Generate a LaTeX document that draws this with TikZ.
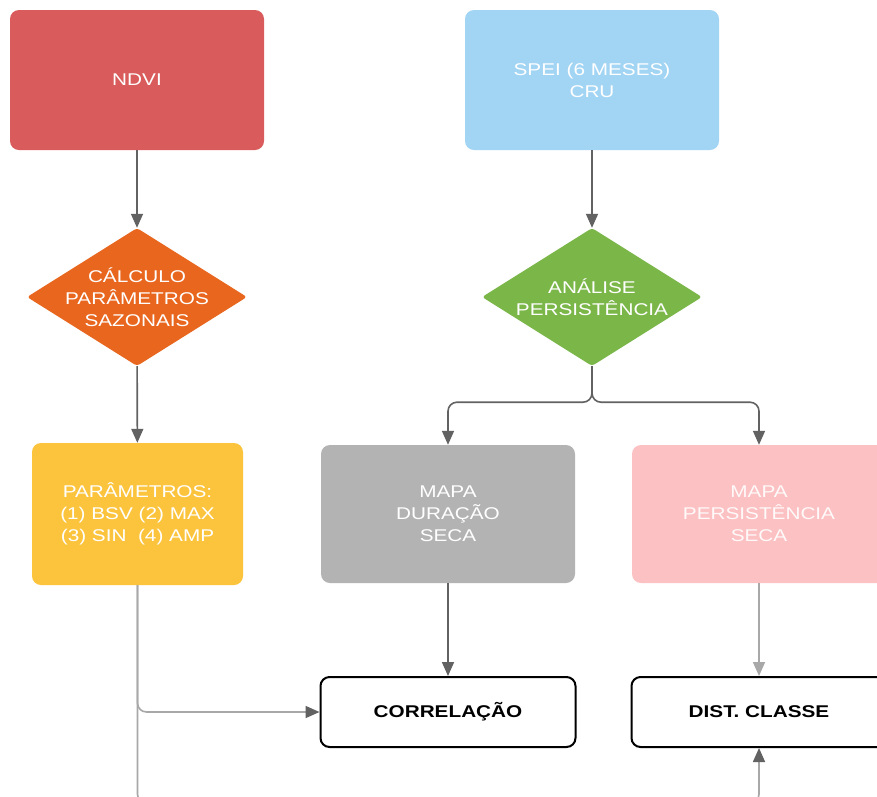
\documentclass[tikz,border=0pt]{standalone}
\usepackage{fontspec}
\setmainfont{Liberation Sans}[FakeStretch=1.22]
\usetikzlibrary{shapes.geometric,arrows.meta}
\definecolor{cRed}{HTML}{D95B5B}
\definecolor{cBlue}{HTML}{A2D4F4}
\definecolor{cOrange}{HTML}{E8661E}
\definecolor{cGreen}{HTML}{7AB648}
\definecolor{cYellow}{HTML}{FCC43C}
\definecolor{cGray}{HTML}{B3B3B3}
\definecolor{cPink}{HTML}{FCC1C3}
\definecolor{cLine}{HTML}{626262}
\definecolor{cLight}{HTML}{A8A8A8}
\tikzset{
  box/.style={rounded corners=9pt, draw=none, text=white, align=center,
    font=\fontsize{17}{22}\selectfont, inner sep=0pt},
  dia/.style={diamond, draw=none, minimum width=220pt, minimum height=138pt,
    inner sep=0pt, rounded corners=3pt},
  diatext/.style={text=white, align=center, font=\fontsize{17}{22}\selectfont},
  endbox/.style={rounded corners=9pt, draw=black, line width=2pt, fill=white,
    minimum width=255pt, minimum height=70pt, inner sep=0pt,
    font=\fontsize{17}{22}\selectfont\bfseries},
  conn/.style={draw=cLine, line width=1.6pt,
    -{Triangle[length=14pt,width=12pt]}},
  lconn/.style={draw=cLight, line width=1.6pt,
    -{Triangle[length=14pt,width=12pt]}},
  mconn/.style={draw=cLight, line width=1.6pt,
    -{Triangle[length=14pt,width=12pt,color=cLine]}},
}
\begin{document}
\begin{tikzpicture}[x=1pt,y=-1pt]
\useasboundingbox[fill=white] (0,0) rectangle (877,796);
% top boxes
\node[box, fill=cRed, minimum width=254pt, minimum height=140pt] (ndvi) at (137,80) {NDVI};
\node[box, fill=cBlue, minimum width=254pt, minimum height=140pt] (spei) at (592,80) {SPEI (6 MESES)\\CRU};
% diamonds
\node[dia, fill=cOrange] (calc) at (137,297) {};
\node[diatext] (calcT) at (137,297) {CÁLCULO\\PARÂMETROS\\SAZONAIS};
\node[dia, fill=cGreen] (anal) at (592,297) {};
\node[diatext] (analT) at (592,297) {ANÁLISE\\PERSISTÊNCIA};
% middle boxes
\node[box, fill=cYellow, minimum width=211pt, minimum height=142pt] (param) at (137.5,514) {PARÂMETROS:\\(1) BSV (2) MAX\\(3) SIN\ \ (4) AMP};
\node[box, fill=cGray, minimum width=254pt, minimum height=138pt] (gray) at (448,514) {MAPA\\DURAÇÃO\\SECA};
\node[box, fill=cPink, minimum width=254pt, minimum height=138pt, text=white!92!cPink] (pink) at (759,514) {MAPA\\PERSISTÊNCIA\\SECA};
% end boxes
\node[endbox] (corr) at (448,712) {CORRELAÇÃO};
\node[endbox] (dist) at (759,712) {DIST. CLASSE};
% connectors
\draw[conn] (ndvi) -- (calc);
\draw[conn] (spei) -- (anal);
\draw[conn] (calc) -- (param);
\draw[conn, rounded corners=9pt] (anal.south) -- ++(0,36) -| (gray.north);
\draw[conn, rounded corners=9pt] (anal.south) -- ++(0,36) -| (pink.north);
\draw[conn] (gray) -- (corr);
\draw[lconn] (pink) -- (dist);
\draw[mconn, rounded corners=9pt] (param.south) |- (corr.west);
\draw[mconn, rounded corners=9pt] (param.south) -- ++(0,218) -| (dist.south);
\end{tikzpicture}
\end{document}
